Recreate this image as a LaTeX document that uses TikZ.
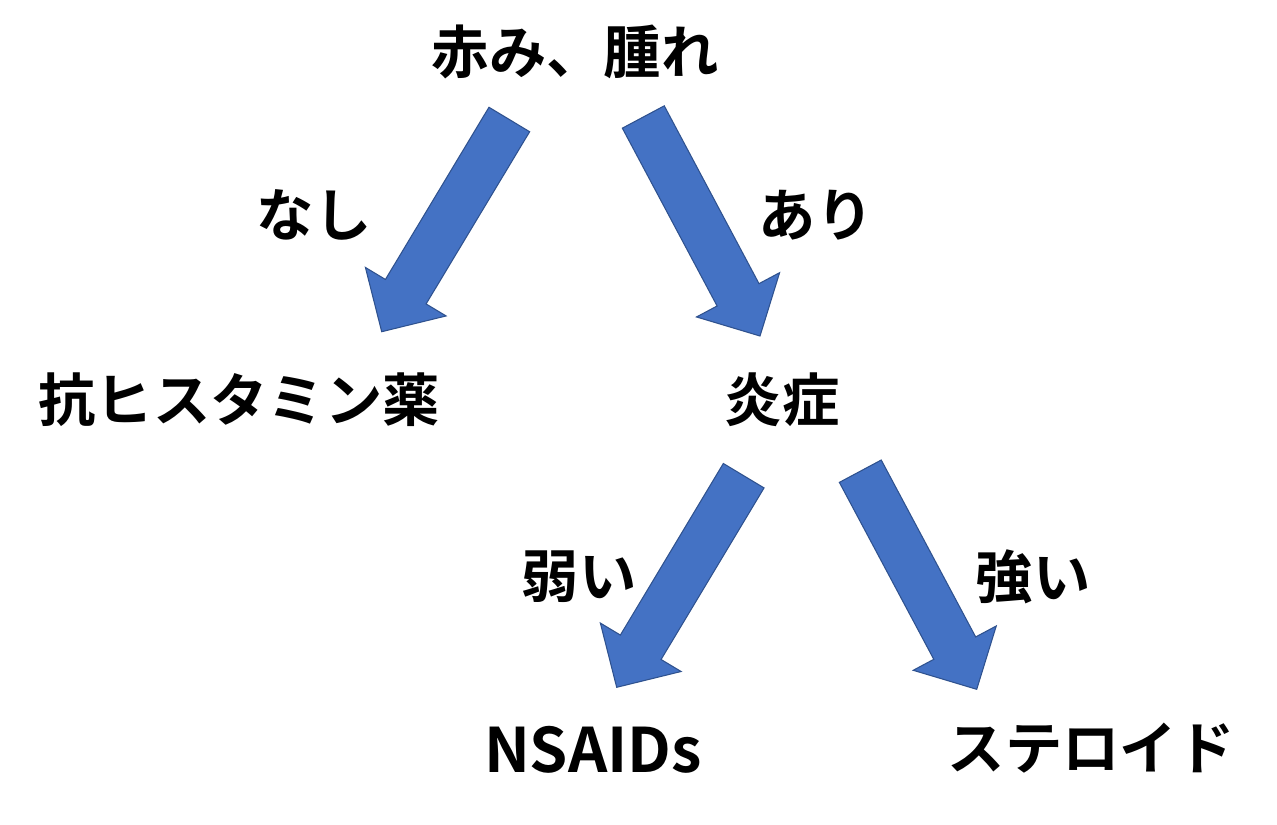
\documentclass[tikz,border=0pt]{standalone}
\usepackage{fontspec}
\setmainfont{Noto Sans CJK JP}[BoldFont={Noto Sans CJK JP Bold}]
\usetikzlibrary{calc}

\definecolor{arrowblue}{HTML}{4472C4}
\definecolor{arrowedge}{HTML}{2F528F}

\tikzset{
  word/.style={font=\fontsize{43}{50}\selectfont\bfseries, inner sep=0pt},
  blockarrow/.style={fill=arrowblue, draw=arrowedge, line width=0.8pt, line join=miter}
}

\begin{document}
\begin{tikzpicture}[x=0.75pt, y=-0.75pt]
  \useasboundingbox (0,0) rectangle (1277,824);

  \foreach \name/\txt/\x/\y in {top/赤み、腫れ/575/52, none/なし/314/215, yes/あり/816/215,
                                anti/抗ヒスタミン薬/239/400, infl/炎症/782/400,
                                weak/弱い/579/577, strong/強い/1033/577,
                                ster/ステロイド/1091/748} {
    \node[word] (\name) at (\x,\y) {\txt};
  }
  \node[word, font=\fontsize{46}{52}\selectfont\bfseries] (nsaid) at (593,750) {NSAIDs};

  \foreach \a/\x/\y in {t1/509.3/119.5, h1/381.7/331.7, t2/643.3/117, h2/760/336,
                        t3/743.7/475.7, h3/616.7/687.3, t4/860.3/471.2, h4/976.7/689.3} {
    \coordinate (\a) at (\x,\y);
  }

  % block arrows: shaft half width 17.8pt, head half width 35.3pt, head length 35pt
  \foreach \i in {1,2,3,4} {
    \draw[blockarrow] let \p1=($(h\i)-(t\i)$), \n1={atan2(\y1,\x1)}, \n2={veclen(\x1,\y1)} in
      ($(t\i)+(\n1+90:17.8pt)$)
      -- ($(t\i)+(\n1:\n2-35pt)+(\n1+90:17.8pt)$)
      -- ($(t\i)+(\n1:\n2-35pt)+(\n1+90:35.3pt)$)
      -- (h\i)
      -- ($(t\i)+(\n1:\n2-35pt)+(\n1-90:35.3pt)$)
      -- ($(t\i)+(\n1:\n2-35pt)+(\n1-90:17.8pt)$)
      -- ($(t\i)+(\n1-90:17.8pt)$) -- cycle;
  }

\end{tikzpicture}
\end{document}
